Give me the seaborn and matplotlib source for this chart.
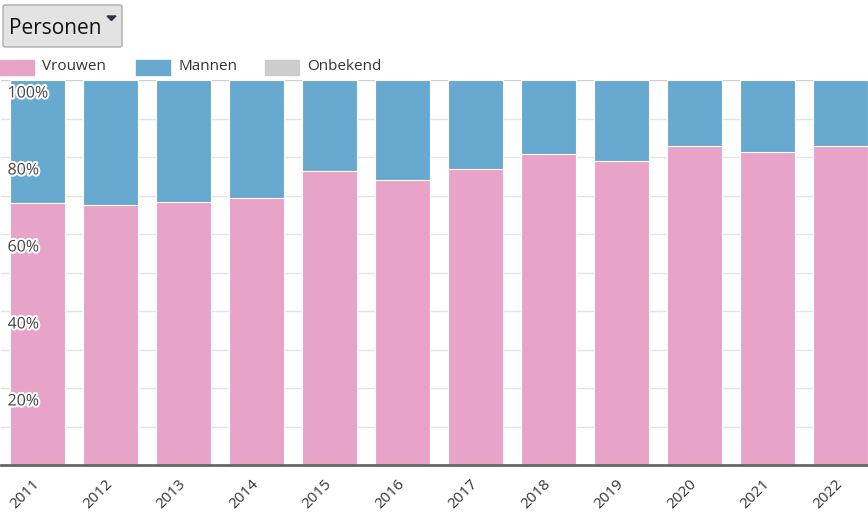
import numpy as np
import pandas as pd
import matplotlib
matplotlib.use('Agg')
import matplotlib.pyplot as plt
import matplotlib.patheffects as pe
from matplotlib.patches import Rectangle, FancyBboxPatch, Polygon
import seaborn as sns


# share of women / men per year (percent of persons)
years = ['2011', '2012', '2013', '2014', '2015', '2016',
         '2017', '2018', '2019', '2020', '2021', '2022']
vrouwen = [68.1, 67.5, 68.3, 69.4, 76.4, 74.1, 77.0, 80.7, 79.0, 82.9, 81.4, 82.9]
mannen = [31.9, 32.5, 31.7, 30.6, 23.6, 25.9, 23.0, 19.3, 21.0, 17.1, 18.6, 17.1]
onbekend = [0.0] * 12

legend_labels = ['Vrouwen', 'Mannen', 'Onbekend']
colors = ['#e8a3c8', '#67a9cf', '#cccccc']
ytick_vals = [20, 40, 60, 80, 100]

W, H = 868, 513


def fx(px):
    return px / W


def fy(py):
    return 1 - py / H


def main():
    sns.set_style('white')
    plt.rcParams['font.family'] = ['Open Sans', 'DejaVu Sans']

    df = pd.DataFrame({'jaar': years, 'vrouwen': vrouwen, 'mannen': mannen,
                       'onbekend': onbekend})
    df['totaal'] = df['vrouwen'] + df['mannen'] + df['onbekend']

    fig = plt.figure(figsize=(W / 100, H / 100), dpi=100)
    ax = fig.add_axes([fx(1), fy(465), 876 / W, 385 / H])

    # gridlines behind bars
    for v in range(10, 101, 10):
        ax.axhline(v, color='#cfcfcf' if v == 100 else '#e4e4e4', lw=1, zorder=0)

    sns.barplot(data=df, x='jaar', y='totaal', color=colors[1], width=0.75,
                edgecolor='white', linewidth=0.8, saturation=1, ax=ax, zorder=2)
    sns.barplot(data=df, x='jaar', y='vrouwen', color=colors[0], width=0.75,
                edgecolor='white', linewidth=0.8, saturation=1, ax=ax, zorder=3)

    ax.set_xlim(-0.5, len(years) - 0.5)
    ax.set_ylim(0, 100)
    ax.set_xlabel('')
    ax.set_ylabel('')
    ax.set_yticks([])
    for s in ['top', 'right', 'left']:
        ax.spines[s].set_visible(False)
    ax.spines['bottom'].set_color('#666666')
    ax.spines['bottom'].set_linewidth(2)
    ax.spines['bottom'].set_zorder(5)

    ax.tick_params(axis='x', length=0, pad=12)
    ax.set_xticks(range(len(years)))
    ax.set_xticklabels(years, rotation=45, ha='right', va='center',
                       rotation_mode='anchor', fontsize=11, color='#333333')

    for v in ytick_vals:
        ax.text(-0.41, v - 3.5, f'{v}%', fontsize=11.5, color='#444444',
                va='center', ha='left', zorder=6,
                path_effects=[pe.withStroke(linewidth=3, foreground='white')])

    # dropdown button
    btn = FancyBboxPatch((fx(3), fy(47)), fx(119), 42 / H,
                         boxstyle='round,pad=0,rounding_size=0.003',
                         transform=fig.transFigure, facecolor='#e3e3e3',
                         edgecolor='#adadad', lw=1)
    fig.patches.append(btn)
    fig.text(fx(9), fy(28), 'Personen', fontsize=15, color='#111111',
             va='center', ha='left')
    tri = Polygon([[fx(107), fy(16)], [fx(116), fy(16)], [fx(111.5), fy(20.5)]],
                  closed=True, transform=fig.transFigure, color='#2d3340')
    fig.patches.append(tri)

    # legend
    leg_x = [0, 136, 265]
    for x0, lab, c in zip(leg_x, legend_labels, colors):
        fig.patches.append(Rectangle((fx(x0), fy(75)), fx(34), 15 / H,
                                     transform=fig.transFigure, color=c))
        fig.text(fx(x0 + 42), fy(67), lab, fontsize=11, color='#333333',
                 va='center', ha='left')

    fig.savefig('out.png', dpi=100)


if __name__ == '__main__':
    main()
